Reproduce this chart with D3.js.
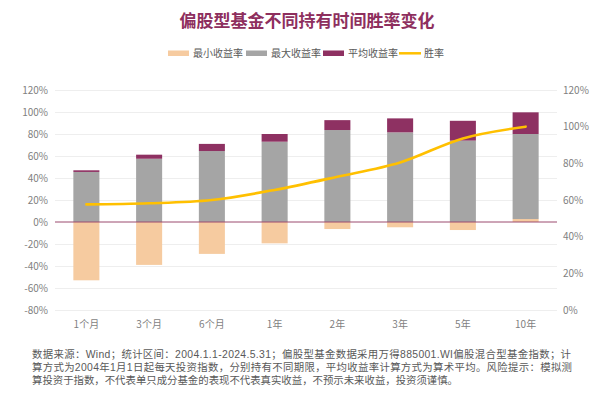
<!DOCTYPE html>
<html><head><meta charset="utf-8">
<script src="https://cdn.jsdelivr.net/npm/d3@7"></script>
<style>
html,body{margin:0;padding:0;background:#fff;}
text{font-family:"Noto Sans CJK SC","Noto Sans",sans-serif;}
</style></head>
<body>
<svg id="c" width="605" height="405"></svg>
<script>
const categories = ["1个月","3个月","6个月","1年","2年","3年","5年","10年"];
const minReturn = [-53, -39, -29, -19.4, -6.4, -4.8, -7.3, 2.7];
const maxReturn = [45.5, 57.5, 64.5, 73, 83.6, 81.5, 74, 77.3];
const avgReturn = [1.5, 3.7, 6.5, 7, 9, 12.7, 18, 19.7];
const winRate = [57.6, 58.2, 60, 65.5, 72.7, 80.5, 93.6, 100];
const leftTicks = [-80,-60,-40,-20,0,20,40,60,80,100,120];
const rightTicks = [0,20,40,60,80,100,120];
const seriesNames = ["最小收益率","最大收益率","平均收益率","胜率"];
const footnote = [
 "数据来源：Wind；统计区间：2004.1.1-2024.5.31；偏股型基金数据采用万得885001.WI偏股混合型基金指数；计",
 "算方式为2004年1月1日起每天投资指数，分别持有不同期限，平均收益率计算方式为算术平均。风险提示：模拟测",
 "算投资于指数，不代表单只成分基金的表现不代表真实收益，不预示未来收益，投资须谨慎。"
];
const colors = {min:"#F6CBA0", max:"#A5A5A5", avg:"#8E3162", line:"#FFC000", title:"#8E2F5E"};

const svg = d3.select("#c");
const L = 55, R = 557, T = 90, B = 310;
const x = d3.scaleBand().domain(categories).range([L,R]).paddingInner(0.585).paddingOuter(0.2925);
const y = d3.scaleLinear().domain([-80,120]).range([B,T]);
const y2 = d3.scaleLinear().domain([0,120]).range([B,T]);

// title
svg.append("text").attr("x",307).attr("y",27).attr("text-anchor","middle")
  .attr("font-size",17).attr("font-weight","bold").attr("fill",colors.title)
  .text("偏股型基金不同持有时间胜率变化");

// legend
const lg = svg.append("g");
const legendItems = [
  {name:seriesNames[0], c:colors.min, x:168, type:"rect"},
  {name:seriesNames[1], c:colors.max, x:246, type:"rect"},
  {name:seriesNames[2], c:colors.avg, x:323, type:"rect"},
  {name:seriesNames[3], c:colors.line, x:399, type:"line"}
];
legendItems.forEach(d=>{
  if(d.type==="rect") lg.append("rect").attr("x",d.x).attr("y",50.5).attr("width",21).attr("height",5.5).attr("fill",d.c);
  else lg.append("line").attr("x1",d.x).attr("x2",d.x+22).attr("y1",53.3).attr("y2",53.3).attr("stroke",d.c).attr("stroke-width",2.5);
  lg.append("text").attr("x",d.x+25).attr("y",57).attr("font-size",10).attr("fill","#595959").text(d.name);
});

// gridlines
svg.append("g").selectAll("line").data(leftTicks.filter(t=>t!==0)).join("line")
  .attr("x1",L).attr("x2",R).attr("y1",d=>y(d)+0.5).attr("y2",d=>y(d)+0.5)
  .attr("stroke","#EEEEEE").attr("stroke-width",1);

// left axis
const ax = d3.axisLeft(y).tickValues(leftTicks).tickFormat(d=>d+"%").tickSize(0).tickPadding(7);
const ga = svg.append("g").attr("transform",`translate(${L},0)`).call(ax);
ga.select(".domain").remove();
ga.selectAll("text").attr("font-size",10).attr("fill","#7F7F7F").attr("font-family","'Open Sans','Noto Sans',sans-serif");

// right axis
const ax2 = d3.axisRight(y2).tickValues(rightTicks).tickFormat(d=>d+"%").tickSize(0).tickPadding(6);
const gb = svg.append("g").attr("transform",`translate(${R},0)`).call(ax2);
gb.select(".domain").remove();
gb.selectAll("text").attr("font-size",10).attr("fill","#7F7F7F").attr("font-family","'Open Sans','Noto Sans',sans-serif");

// stacked bars
const rows = categories.map((c,i)=>({cat:c, min:minReturn[i], max:maxReturn[i], avg:avgReturn[i]}));
const stack = d3.stack().keys(["min","max","avg"]).offset(d3.stackOffsetDiverging);
const layers = stack(rows);
svg.append("g").selectAll("g").data(layers).join("g")
  .attr("fill",d=>colors[d.key])
  .selectAll("rect").data(d=>d).join("rect")
  .attr("x",d=>x(d.data.cat)).attr("width",x.bandwidth())
  .attr("y",d=>y(Math.max(d[0],d[1]))).attr("height",d=>Math.abs(y(d[0])-y(d[1])));

// zero line
svg.append("line").attr("x1",L).attr("x2",R).attr("y1",y(0)).attr("y2",y(0))
  .attr("stroke","#9B4A6E").attr("stroke-width",1);

// win rate line
const line = d3.line().x((d,i)=>x(categories[i])+x.bandwidth()/2).y(d=>y2(d)).curve(d3.curveCatmullRom.alpha(0.5));
svg.append("path").datum(winRate).attr("d",line).attr("fill","none")
  .attr("stroke",colors.line).attr("stroke-width",2.6).attr("stroke-linecap","round");

// x labels
svg.append("g").selectAll("text").data(categories).join("text")
  .attr("x",d=>x(d)+x.bandwidth()/2).attr("y",328).attr("text-anchor","middle")
  .attr("font-size",10).attr("fill","#7F7F7F").text(d=>d);

// footnote
const widths = [539, 540, null];
svg.append("g").selectAll("text").data(footnote).join("text")
  .attr("x",32).attr("y",(d,i)=>358+i*12.8)
  .attr("font-size",10.4).attr("fill","#595959")
  .style("font-family","'Liberation Sans','Noto Sans CJK SC',sans-serif")
  .each(function(d,i){ if(widths[i]) d3.select(this).attr("textLength",widths[i]).attr("lengthAdjust","spacing"); })
  .text(d=>d);
</script>
</body></html>
